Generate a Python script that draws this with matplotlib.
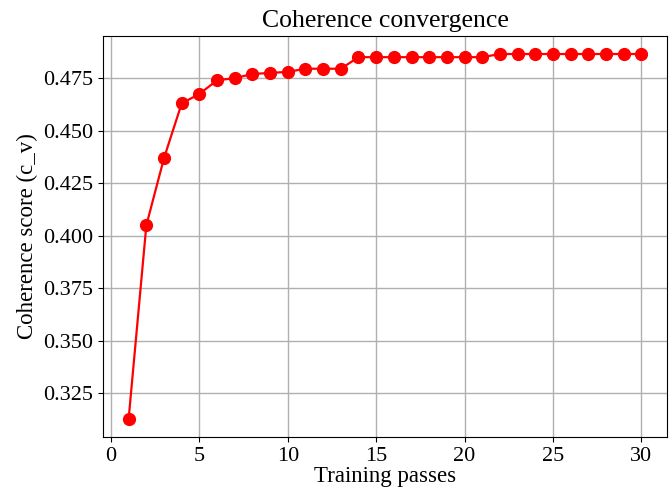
import matplotlib
matplotlib.use("Agg")
import matplotlib.pyplot as plt

plt.rcParams['font.family'] = ['Liberation Serif', 'DejaVu Serif']

passes = list(range(1, 31))
coherence = [0.313, 0.405, 0.437, 0.463, 0.4675, 0.474, 0.475, 0.477, 0.4775, 0.478,
             0.4795, 0.4795, 0.4795, 0.485, 0.485, 0.485, 0.485, 0.485, 0.485, 0.485,
             0.485, 0.4865, 0.4865, 0.4865, 0.4865, 0.4865, 0.4865, 0.4865, 0.4865, 0.4865]

fig = plt.figure(figsize=(6.69, 4.97), dpi=100)
ax = fig.add_axes([0.154, 0.121, 0.843, 0.807])
ax.plot(passes, coherence, color='red', marker='o', markersize=8.5, linewidth=1.6)
ax.grid(True, color='#b0b0b0', linewidth=1.0)
ax.set_yticks([0.325, 0.350, 0.375, 0.400, 0.425, 0.450, 0.475])
ax.tick_params(labelsize=16)
ax.set_title('Coherence convergence', fontsize=18.5)
ax.set_xlabel('Training passes', fontsize=16.5, labelpad=0)
ax.set_ylabel('Coherence score (c_v)', fontsize=16.5, labelpad=4)

fig.savefig('out.png', dpi=100)
